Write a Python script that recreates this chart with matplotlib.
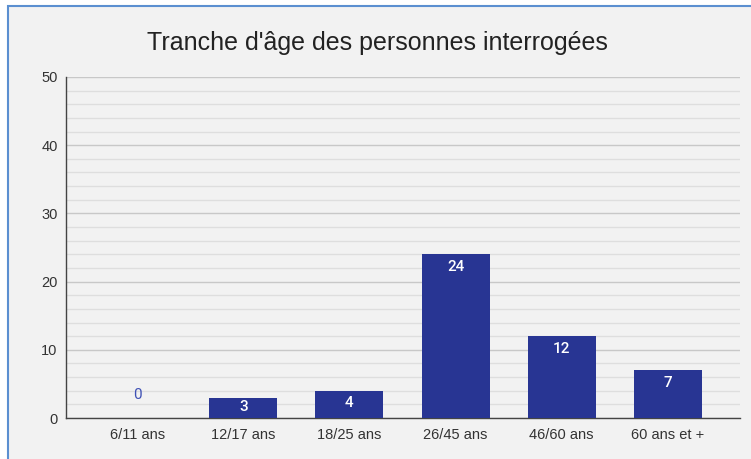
import matplotlib
matplotlib.use("Agg")
import matplotlib.pyplot as plt
import matplotlib.patches as patches
from matplotlib.ticker import MultipleLocator

categories = ["6/11 ans", "12/17 ans", "18/25 ans", "26/45 ans", "46/60 ans", "60 ans et +"]
values = [0, 3, 4, 24, 12, 7]
title = "Tranche d'âge des personnes interrogées"

plt.rcParams['font.family'] = ['Liberation Sans', 'DejaVu Sans']

W, H = 751, 459
fig = plt.figure(figsize=(W / 100, H / 100), dpi=100, facecolor='white')

# fond gris avec bordure bleue (haut et gauche visibles)
fig.patches.append(patches.Rectangle(
    (8 / W, -0.1), 1.2, 1 - 6 / H + 0.1,
    transform=fig.transFigure, facecolor='#f2f2f2',
    edgecolor='#5b8fd0', linewidth=1.5, zorder=-5))

ax = fig.add_axes([66 / W, (H - 418) / H, (740 - 66) / W, (418 - 77) / H])
ax.set_facecolor('none')

x = list(range(len(categories)))
ax.bar(x, values, width=0.64, color='#283593', zorder=3)

for xi, v in zip(x, values):
    if v > 0:
        y = max(v - 1.85, v / 2 + 0.15)
        ax.text(xi, y, str(v), ha='center', va='center', color='white',
                fontsize=11, weight='medium', family=['Roboto', 'DejaVu Sans'], zorder=4)
    else:
        ax.text(xi, 3.3, str(v), ha='center', va='center', color='#3f51b5',
                fontsize=11, family=['Roboto', 'DejaVu Sans'], zorder=4)

ax.set_xlim(-0.67, 5.68)
ax.set_ylim(0, 50)
ax.yaxis.set_major_locator(MultipleLocator(10))
ax.yaxis.set_minor_locator(MultipleLocator(2))
ax.grid(axis='y', which='major', color='#c8c8c8', linewidth=1.0, zorder=1)
ax.grid(axis='y', which='minor', color='#dedede', linewidth=1.0, zorder=1)
ax.set_axisbelow(True)

ax.set_xticks(x)
ax.set_xticklabels(categories)
ax.tick_params(axis='both', which='both', length=0, labelsize=10.5, colors='#333333')
ax.tick_params(axis='x', pad=7)
ax.tick_params(axis='y', pad=6)

for s in ['top', 'right']:
    ax.spines[s].set_visible(False)
for s in ['left', 'bottom']:
    ax.spines[s].set_color('#444444')
    ax.spines[s].set_linewidth(1.0)

fig.text(377 / W, 1 - 43 / H, title, ha='center', va='center',
         fontsize=18, color='#222222')

fig.savefig('out.png', dpi=100, facecolor=fig.get_facecolor())
